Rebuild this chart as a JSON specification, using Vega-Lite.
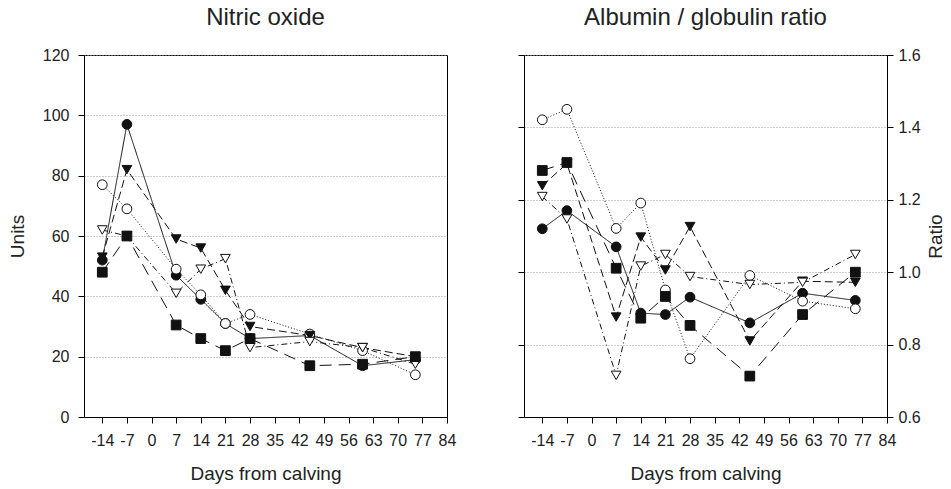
{
  "$schema": "https://vega.github.io/schema/vega-lite/v6.json",
  "padding": {"left": 7, "top": 5, "right": 5, "bottom": 5},
  "config": {
    "font": "Liberation Sans",
    "view": {"stroke": "#000", "strokeWidth": 1},
    "concat": {"spacing": 60},
    "axis": {
      "labelFont": "Liberation Sans",
      "labelFontSize": 16,
      "labelColor": "#222",
      "labelOverlap": false,
      "labelFlush": false,
      "titleFont": "Liberation Sans",
      "titleFontSize": 19,
      "titleFontWeight": "normal",
      "titleColor": "#222",
      "tickColor": "#000",
      "domainColor": "#000",
      "tickSize": 6,
      "labelPadding": 9,
      "gridColor": "#999",
      "gridDash": [1, 2],
      "gridWidth": 1
    },
    "title": {
      "font": "Liberation Sans",
      "fontSize": 24,
      "fontWeight": "normal",
      "color": "#222",
      "anchor": "middle",
      "offset": 17
    }
  },
  "datasets": {
    "no": [
      {"series": "s1", "day": -14, "value": 52},
      {"series": "s1", "day": -7, "value": 97},
      {"series": "s1", "day": 7, "value": 47},
      {"series": "s1", "day": 14, "value": 39},
      {"series": "s1", "day": 21, "value": 31},
      {"series": "s1", "day": 28, "value": 26},
      {"series": "s1", "day": 45, "value": 27},
      {"series": "s1", "day": 60, "value": 17},
      {"series": "s1", "day": 75, "value": 19},
      {"series": "s2", "day": -14, "value": 77},
      {"series": "s2", "day": -7, "value": 69},
      {"series": "s2", "day": 7, "value": 49},
      {"series": "s2", "day": 14, "value": 40.5},
      {"series": "s2", "day": 21, "value": 31},
      {"series": "s2", "day": 28, "value": 34},
      {"series": "s2", "day": 45, "value": 27.5},
      {"series": "s2", "day": 60, "value": 22},
      {"series": "s2", "day": 75, "value": 14},
      {"series": "s3", "day": -14, "value": 53},
      {"series": "s3", "day": -7, "value": 82},
      {"series": "s3", "day": 7, "value": 59},
      {"series": "s3", "day": 14, "value": 56},
      {"series": "s3", "day": 21, "value": 42},
      {"series": "s3", "day": 28, "value": 30},
      {"series": "s3", "day": 45, "value": 27},
      {"series": "s3", "day": 60, "value": 23},
      {"series": "s3", "day": 75, "value": 20},
      {"series": "s4", "day": -14, "value": 62},
      {"series": "s4", "day": -7, "value": 60},
      {"series": "s4", "day": 7, "value": 41},
      {"series": "s4", "day": 14, "value": 49},
      {"series": "s4", "day": 21, "value": 52.5},
      {"series": "s4", "day": 28, "value": 23},
      {"series": "s4", "day": 45, "value": 25},
      {"series": "s4", "day": 60, "value": 23},
      {"series": "s4", "day": 75, "value": 17.5},
      {"series": "s5", "day": -14, "value": 48},
      {"series": "s5", "day": -7, "value": 60},
      {"series": "s5", "day": 7, "value": 30.5},
      {"series": "s5", "day": 14, "value": 26},
      {"series": "s5", "day": 21, "value": 22},
      {"series": "s5", "day": 28, "value": 26},
      {"series": "s5", "day": 45, "value": 17},
      {"series": "s5", "day": 60, "value": 17.5},
      {"series": "s5", "day": 75, "value": 20}
    ],
    "ag": [
      {"series": "s1", "day": -14, "value": 1.12},
      {"series": "s1", "day": -7, "value": 1.17},
      {"series": "s1", "day": 7, "value": 1.07},
      {"series": "s1", "day": 14, "value": 0.887},
      {"series": "s1", "day": 21, "value": 0.883},
      {"series": "s1", "day": 28, "value": 0.931},
      {"series": "s1", "day": 45, "value": 0.86},
      {"series": "s1", "day": 60, "value": 0.942},
      {"series": "s1", "day": 75, "value": 0.922},
      {"series": "s2", "day": -14, "value": 1.421},
      {"series": "s2", "day": -7, "value": 1.45},
      {"series": "s2", "day": 7, "value": 1.121},
      {"series": "s2", "day": 14, "value": 1.191},
      {"series": "s2", "day": 21, "value": 0.951},
      {"series": "s2", "day": 28, "value": 0.761},
      {"series": "s2", "day": 45, "value": 0.991},
      {"series": "s2", "day": 60, "value": 0.92},
      {"series": "s2", "day": 75, "value": 0.899},
      {"series": "s3", "day": -14, "value": 1.239},
      {"series": "s3", "day": -7, "value": 1.3},
      {"series": "s3", "day": 7, "value": 0.876},
      {"series": "s3", "day": 14, "value": 1.097},
      {"series": "s3", "day": 21, "value": 1.006},
      {"series": "s3", "day": 28, "value": 1.126},
      {"series": "s3", "day": 45, "value": 0.81},
      {"series": "s3", "day": 60, "value": 0.975},
      {"series": "s3", "day": 75, "value": 0.972},
      {"series": "s4", "day": -14, "value": 1.209},
      {"series": "s4", "day": -7, "value": 1.147},
      {"series": "s4", "day": 7, "value": 0.715},
      {"series": "s4", "day": 14, "value": 1.017},
      {"series": "s4", "day": 21, "value": 1.049},
      {"series": "s4", "day": 28, "value": 0.988},
      {"series": "s4", "day": 45, "value": 0.966},
      {"series": "s4", "day": 60, "value": 0.972},
      {"series": "s4", "day": 75, "value": 1.049},
      {"series": "s5", "day": -14, "value": 1.281},
      {"series": "s5", "day": -7, "value": 1.303},
      {"series": "s5", "day": 7, "value": 1.011},
      {"series": "s5", "day": 14, "value": 0.873},
      {"series": "s5", "day": 21, "value": 0.933},
      {"series": "s5", "day": 28, "value": 0.853},
      {"series": "s5", "day": 45, "value": 0.713},
      {"series": "s5", "day": 60, "value": 0.883},
      {"series": "s5", "day": 75, "value": 1.0}
    ]
  },
  "hconcat": [
    {
      "title": "Nitric oxide",
      "width": 363,
      "height": 362,
      "data": {"name": "no"},
      "encoding": {
        "x": {
          "field": "day", "type": "quantitative",
          "scale": {"domain": [-19.2, 84], "nice": false, "zero": false},
          "axis": {"values": [-14, -7, 0, 7, 14, 21, 28, 35, 42, 49, 56, 63, 70, 77, 84], "title": "Days from calving", "labelExpr": "'' + datum.value", "grid": false, "titlePadding": 16}
        },
        "y": {
          "field": "value", "type": "quantitative",
          "scale": {"domain": [0, 120], "nice": false},
          "axis": {"values": [0, 20, 40, 60, 80, 100, 120], "title": "Units", "grid": true, "titlePadding": 15}
        }
      },
      "layer": [
        {
          "mark": {"type": "line", "color": "#111", "strokeWidth": 1},
          "encoding": {
            "detail": {"field": "series"},
            "strokeDash": {"field": "series", "type": "nominal", "legend": null,
              "scale": {"domain": ["s1", "s2", "s3", "s4", "s5"], "range": [[1, 0], [1, 2], [8, 4], [6, 3, 1, 3], [12, 7]]}}
          }
        },
        {
          "mark": {"type": "point", "filled": true, "stroke": "#111", "strokeWidth": 1, "size": 95, "opacity": 1},
          "encoding": {
            "shape": {"field": "series", "type": "nominal", "legend": null,
              "scale": {"domain": ["s1", "s2", "s3", "s4", "s5"], "range": ["circle", "circle", "triangle-down", "triangle-down", "square"]}},
            "fill": {"field": "series", "type": "nominal", "legend": null,
              "scale": {"domain": ["s1", "s2", "s3", "s4", "s5"], "range": ["#111", "#fff", "#111", "#fff", "#111"]}}
          }
        }
      ]
    },
    {
      "title": "Albumin / globulin ratio",
      "width": 363,
      "height": 362,
      "data": {"name": "ag"},
      "encoding": {
        "x": {
          "field": "day", "type": "quantitative",
          "scale": {"domain": [-19.2, 84], "nice": false, "zero": false},
          "axis": {"values": [-14, -7, 0, 7, 14, 21, 28, 35, 42, 49, 56, 63, 70, 77, 84], "title": "Days from calving", "labelExpr": "'' + datum.value", "grid": false, "titlePadding": 16}
        }
      },
      "layer": [
        {
          "mark": {"type": "line", "color": "#111", "strokeWidth": 1},
          "encoding": {
            "y": {
              "field": "value", "type": "quantitative",
              "scale": {"domain": [0.6, 1.6], "nice": false, "zero": false},
              "axis": {"orient": "left", "values": [0.6, 0.8, 1.0, 1.2, 1.4, 1.6], "labels": false, "title": null, "grid": true}
            },
            "detail": {"field": "series"},
            "strokeDash": {"field": "series", "type": "nominal", "legend": null,
              "scale": {"domain": ["s1", "s2", "s3", "s4", "s5"], "range": [[1, 0], [1, 2], [8, 4], [6, 3, 1, 3], [12, 7]]}}
          }
        },
        {
          "mark": {"type": "point", "filled": true, "stroke": "#111", "strokeWidth": 1, "size": 95, "opacity": 1},
          "encoding": {
            "y": {
              "field": "value", "type": "quantitative",
              "scale": {"domain": [0.6, 1.6], "nice": false, "zero": false},
              "axis": {"orient": "right", "values": [0.6, 0.8, 1.0, 1.2, 1.4, 1.6], "format": ".1f", "title": "Ratio", "grid": false, "titleAngle": -90, "labelPadding": 5, "titlePadding": 25}
            },
            "shape": {"field": "series", "type": "nominal", "legend": null,
              "scale": {"domain": ["s1", "s2", "s3", "s4", "s5"], "range": ["circle", "circle", "triangle-down", "triangle-down", "square"]}},
            "fill": {"field": "series", "type": "nominal", "legend": null,
              "scale": {"domain": ["s1", "s2", "s3", "s4", "s5"], "range": ["#111", "#fff", "#111", "#fff", "#111"]}}
          }
        }
      ],
      "resolve": {"axis": {"y": "independent"}}
    }
  ]
}
